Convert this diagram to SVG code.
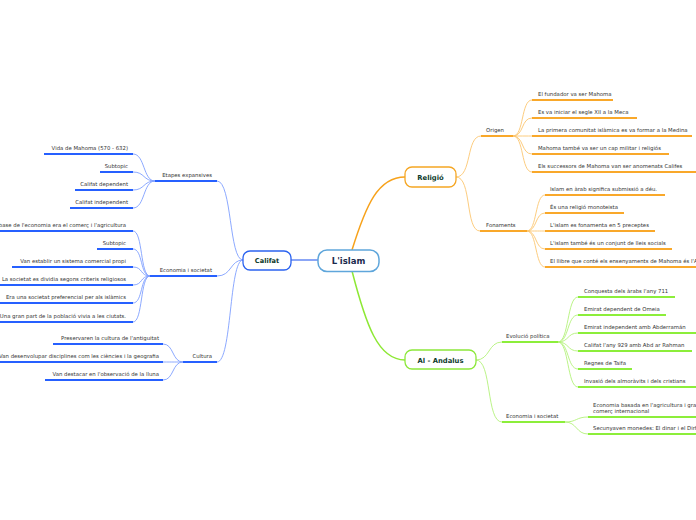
<svg xmlns="http://www.w3.org/2000/svg" width="696" height="520" viewBox="0 0 696 520">
<style>
.t{font-family:"DejaVu Sans",Verdana,sans-serif;font-size:5.35px;fill:#333}
.e{text-anchor:end}
.m{font-family:"DejaVu Sans",Verdana,sans-serif;font-weight:bold;font-size:6.8px;fill:#0e3b2d;text-anchor:middle}
.ub{stroke:#2660ff;stroke-width:2;fill:none}
.uo{stroke:#f9a82a;stroke-width:2;fill:none}
.ug{stroke:#8cee3a;stroke-width:2;fill:none}
.cb{stroke:#7f9fff;stroke-width:0.9;fill:none}
.co{stroke:#fcc670;stroke-width:0.9;fill:none}
.cg{stroke:#b3f27a;stroke-width:0.9;fill:none}
</style>
<rect width="696" height="520" fill="#fff"/>
<g id="connectors">
<line x1="291" y1="260" x2="318" y2="260" stroke="#3f6cf0" stroke-width="1.2"/>
<path d="M352,250 C366,205 378,177 405,177" stroke="#f7a21b" stroke-width="1.5" fill="none"/>
<path d="M352,271 C366,325 378,360 405,360" stroke="#8de834" stroke-width="1.5" fill="none"/>
<path class="cb" d="M243,260 C229,260 232,181 217,181"/>
<path class="cb" d="M243,260 C230,260 232,276 217,276"/>
<path class="cb" d="M243,260 C229,260 232,362 217,362"/>
<path class="cb" d="M155,181 C143,181 145,154 133,154"/>
<path class="cb" d="M155,181 C143,181 145,172 133,172"/>
<path class="cb" d="M155,181 C143,181 145,190 133,190"/>
<path class="cb" d="M155,181 C143,181 145,208 133,208"/>
<path class="cb" d="M150,276 C140,276 143,231 133,231"/>
<path class="cb" d="M150,276 C140,276 143,249 133,249"/>
<path class="cb" d="M150,276 C140,276 143,267 133,267"/>
<path class="cb" d="M150,276 C140,276 143,285 133,285"/>
<path class="cb" d="M150,276 C140,276 143,303 133,303"/>
<path class="cb" d="M150,276 C140,276 143,322 133,322"/>
<path class="cb" d="M183,362 C172,362 174,344 163,344"/>
<path class="cb" d="M183,362 C172,362 174,362 163,362"/>
<path class="cb" d="M183,362 C172,362 174,380 163,380"/>
<path class="co" d="M456,177 C472,177 466,136 481,136"/>
<path class="co" d="M456,177 C472,177 465,231 480,231"/>
<path class="co" d="M513,136 C524,136 521,100 532,100"/>
<path class="co" d="M513,136 C524,136 521,118 532,118"/>
<path class="co" d="M513,136 C524,136 521,136 532,136"/>
<path class="co" d="M513,136 C524,136 521,154 532,154"/>
<path class="co" d="M513,136 C524,136 521,172 532,172"/>
<path class="co" d="M527,231 C537,231 535,195 545,195"/>
<path class="co" d="M527,231 C537,231 535,213 545,213"/>
<path class="co" d="M527,231 C537,231 535,231 545,231"/>
<path class="co" d="M527,231 C537,231 535,249 545,249"/>
<path class="co" d="M527,231 C537,231 535,267 545,267"/>
<path class="cg" d="M476,360 C490,360 488,342 502,342"/>
<path class="cg" d="M476,360 C492,360 486,422 502,422"/>
<path class="cg" d="M558,342 C569,342 567,297 578,297"/>
<path class="cg" d="M558,342 C569,342 567,315 578,315"/>
<path class="cg" d="M558,342 C569,342 567,333 578,333"/>
<path class="cg" d="M558,342 C569,342 567,351 578,351"/>
<path class="cg" d="M558,342 C569,342 567,369 578,369"/>
<path class="cg" d="M558,342 C569,342 567,387 578,387"/>
<path class="cg" d="M565,422 C577,422 576,417 588,417"/>
<path class="cg" d="M565,422 C577,422 576,434 588,434"/>
</g>
<g id="center">
<rect x="318" y="250" width="61" height="21.5" rx="9" fill="#fff" stroke="#5fa6db" stroke-width="1.5"/>
<text x="348.5" y="264" class="m" style="font-size:8.5px;fill:#1b2a4e">L'islam</text>
</g>
<g id="califat">
<rect x="243" y="251" width="48" height="19" rx="7" fill="#fff" stroke="#2b63f0" stroke-width="1.3"/>
<text x="267" y="263" class="m" style="font-size:6.6px">Califat</text>
</g>
<g id="religio">
<rect x="405" y="167" width="51" height="20" rx="7" fill="#fff" stroke="#f5a623" stroke-width="1.3"/>
<text x="430.5" y="179.5" class="m">Religió</text>
</g>
<g id="alandalus">
<rect x="405" y="350" width="71" height="19" rx="7" fill="#fff" stroke="#8ce83a" stroke-width="1.3"/>
<text x="440.5" y="362.5" class="m">Al - Andalus</text>
</g>
<g id="etapes">
<line class="ub" x1="155" y1="181" x2="217" y2="181"/>
<text class="t e" x="212" y="177">Etapes expansives</text>
</g>
<g id="etapes-children">
<line class="ub" x1="44" y1="154" x2="133" y2="154"/>
<text class="t e" x="128" y="150">Vida de Mahoma (570 - 632)</text>
<line class="ub" x1="100" y1="172" x2="133" y2="172"/>
<text class="t e" x="128" y="168">Subtopic</text>
<line class="ub" x1="75" y1="190" x2="133" y2="190"/>
<text class="t e" x="128" y="186">Califat dependent</text>
<line class="ub" x1="70" y1="208" x2="133" y2="208"/>
<text class="t e" x="128" y="204">Califat independent</text>
</g>
<g id="economia-l">
<line class="ub" x1="150" y1="276" x2="217" y2="276"/>
<text class="t e" x="212" y="272">Economia i societat</text>
</g>
<g id="economia-l-children">
<line class="ub" x1="0" y1="231" x2="133" y2="231"/>
<text class="t e" x="126" y="227">La base de l'economia era el comerç i l'agricultura</text>
<line class="ub" x1="97" y1="249" x2="133" y2="249"/>
<text class="t e" x="126" y="245">Subtopic</text>
<line class="ub" x1="12" y1="267" x2="133" y2="267"/>
<text class="t e" x="126" y="263">Van establir un sistema comercial propi</text>
<line class="ub" x1="0" y1="285" x2="133" y2="285"/>
<text class="t e" x="126" y="281">La societat es dividia segons criteris religiosos</text>
<line class="ub" x1="0" y1="303" x2="133" y2="303"/>
<text class="t e" x="126" y="299">Era una societat preferencial per als islàmics</text>
<line class="ub" x1="0" y1="322" x2="133" y2="322"/>
<text class="t e" x="126" y="318">Una gran part de la població vivia a les ciutats.</text>
</g>
<g id="cultura">
<line class="ub" x1="183" y1="362" x2="217" y2="362"/>
<text class="t e" x="212" y="358">Cultura</text>
</g>
<g id="cultura-children">
<line class="ub" x1="53" y1="344" x2="163" y2="344"/>
<text class="t e" x="159" y="340">Preservaren la cultura de l'antiguitat</text>
<line class="ub" x1="0" y1="362" x2="163" y2="362"/>
<text class="t e" x="159" y="358">Van desenvolupar disciplines com les ciències i la geografia</text>
<line class="ub" x1="45" y1="380" x2="163" y2="380"/>
<text class="t e" x="159" y="376">Van destacar en l'observació de la lluna</text>
</g>
<g id="origen">
<line class="uo" x1="481" y1="136" x2="513" y2="136"/>
<text class="t" x="486" y="132">Origen</text>
</g>
<g id="origen-children">
<line class="uo" x1="532" y1="100" x2="613" y2="100"/>
<text class="t" x="538" y="96">El fundador va ser Mahoma</text>
<line class="uo" x1="532" y1="118" x2="637" y2="118"/>
<text class="t" x="538" y="114">Es va iniciar el segle XII a la Meca</text>
<line class="uo" x1="532" y1="136" x2="692" y2="136"/>
<text class="t" x="538" y="132">La primera comunitat islàmica es va formar a la Medina</text>
<line class="uo" x1="532" y1="154" x2="669" y2="154"/>
<text class="t" x="538" y="150">Mahoma també va ser un cap militar i religiós</text>
<line class="uo" x1="532" y1="172" x2="696" y2="172"/>
<text class="t" x="538" y="168">Els successors de Mahoma van ser anomenats Califes</text>
</g>
<g id="fonaments">
<line class="uo" x1="480" y1="231" x2="527" y2="231"/>
<text class="t" x="486" y="227">Fonaments</text>
</g>
<g id="fonaments-children">
<line class="uo" x1="545" y1="195" x2="665" y2="195"/>
<text class="t" x="550" y="191">Islam en àrab significa submissió a déu.</text>
<line class="uo" x1="545" y1="213" x2="624" y2="213"/>
<text class="t" x="550" y="209">És una religió monoteista</text>
<line class="uo" x1="545" y1="231" x2="655" y2="231"/>
<text class="t" x="550" y="227">L'islam es fonamenta en 5 preceptes</text>
<line class="uo" x1="545" y1="249" x2="672" y2="249"/>
<text class="t" x="550" y="245">L'islam també és un conjunt de lleis socials</text>
<line class="uo" x1="545" y1="267" x2="696" y2="267"/>
<text class="t" x="550" y="263">El llibre que conté els ensenyaments de Mahoma és l'Alcorà</text>
</g>
<g id="evolucio">
<line class="ug" x1="502" y1="342" x2="558" y2="342"/>
<text class="t" x="506" y="338">Evolució política</text>
</g>
<g id="evolucio-children">
<line class="ug" x1="578" y1="297" x2="675" y2="297"/>
<text class="t" x="584" y="293">Conquesta dels àrabs l'any 711</text>
<line class="ug" x1="578" y1="315" x2="666" y2="315"/>
<text class="t" x="584" y="311">Emirat dependent de Omeia</text>
<line class="ug" x1="578" y1="333" x2="696" y2="333"/>
<text class="t" x="584" y="329">Emirat independent amb Abderramán</text>
<line class="ug" x1="578" y1="351" x2="692" y2="351"/>
<text class="t" x="584" y="347">Califat l'any 929 amb Abd ar Rahman</text>
<line class="ug" x1="578" y1="369" x2="632" y2="369"/>
<text class="t" x="584" y="365">Regnes de Taifa</text>
<line class="ug" x1="578" y1="387" x2="696" y2="387"/>
<text class="t" x="584" y="383">Invasió dels almoràvits i dels cristians</text>
</g>
<g id="economia-r">
<line class="ug" x1="502" y1="422" x2="565" y2="422"/>
<text class="t" x="506" y="418">Economia i societat</text>
</g>
<g id="economia-r-children">
<line class="ug" x1="588" y1="417" x2="696" y2="417"/>
<text class="t" x="593" y="406.5">Economia basada en l'agricultura i gran</text>
<text class="t" x="593" y="412.5">comerç internacional</text>
<line class="ug" x1="588" y1="434" x2="696" y2="434"/>
<text class="t" x="593" y="430">Secunyaven monedes: El dinar i el Dirhem</text>
</g>
</svg>
